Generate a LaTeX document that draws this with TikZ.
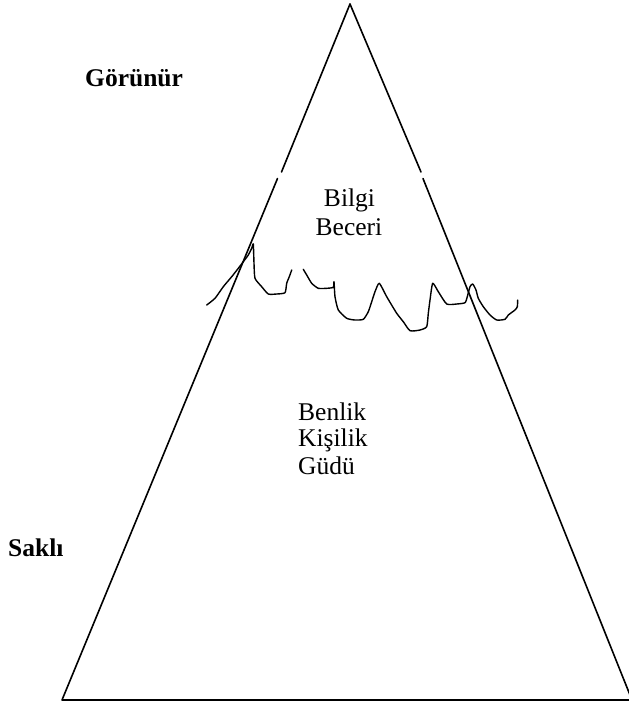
\documentclass[tikz,border=0pt]{standalone}
\usepackage{fontspec}
\setmainfont{Liberation Serif}
\begin{document}
\begin{tikzpicture}[x=1pt,y=-1pt,
  edge/.style={line width=1.6pt,line cap=round,line join=round},
  wave/.style={line width=1.4pt,line cap=round,line join=round},
  lbl/.style={inner sep=0pt,font=\fontsize{25.5}{28}\selectfont},
  bold/.style={inner sep=0pt,font=\fontsize{25.5}{28}\selectfont\bfseries}]
\useasboundingbox (0,0) rectangle (629,704);
% corners
\coordinate (apex) at (350,4);
\coordinate (bl) at (62,700);
\coordinate (br) at (632,700);
\coordinate (lgapA) at (281.5,172);
\coordinate (lgapB) at (277.5,178.5);
\coordinate (rgapA) at (421,172);
\coordinate (rgapB) at (423,178.5);
% triangle sides
\draw[edge] (apex) -- (lgapA);
\draw[edge] (lgapB) -- (bl) -- (br);
\draw[edge] (apex) -- (rgapA);
\draw[edge] (rgapB) -- (br);
% waterline
\draw[wave] plot[smooth,tension=0.35] coordinates {
 (206.7,305) (215,298.3) (223.3,286.7) (231.7,276.7) (238.3,268.3)
 (243.3,261.7) (248.3,255) (251.7,248.3) (253.3,244)
 (254,263.3) (255,278.3) (261.7,286.7) (268.3,294) (276.7,294)
 (285,292.7) (286.7,283.3) (289.3,276.7) (291.7,270)};
\draw[wave] plot[smooth,tension=0.35] coordinates {
 (303.3,269.3) (306.7,275) (311.7,283.3) (318.3,288.3) (326.7,288.3)
 (333.3,287.3) (334,281.7) (335,296.7) (338.3,310) (346.7,318.3)
 (355,320) (363.3,319.3) (368.3,311.7) (371.7,301.7) (375,291.7)
 (379.3,283.3) (386.7,296.7) (396.7,313.3) (403.3,321.7) (410,330.7)
 (420,330) (426.7,326.7) (428.3,313.3) (430,300) (432.7,283.3)
 (438.3,291.7) (446.7,304) (456.7,304) (465,302.7) (467.3,296.7)
 (470,286.7) (472.7,284) (476,290) (478.3,298.3) (483.3,306.7)
 (490,315) (496.7,320) (505,319.3) (508.3,315) (515,310)
 (517.3,306.7) (517.7,300)};
% labels
\node[bold,anchor=base west] (gorunur) at (85,86.7) {Görünür};
\node[bold,anchor=base west] (sakli) at (8,556) {Saklı};
\node[lbl,anchor=base] (bilgi) at (349.5,206.7) {Bilgi};
\node[lbl,anchor=base] (beceri) at (349,235) {Beceri};
\node[lbl,anchor=base west] (benlik) at (298,420) {Benlik};
\node[lbl,anchor=base west] (kisilik) at (298,446.7) {Kişilik};
\node[lbl,anchor=base west] (gudu) at (298,474.3) {Güdü};
\end{tikzpicture}
\end{document}
